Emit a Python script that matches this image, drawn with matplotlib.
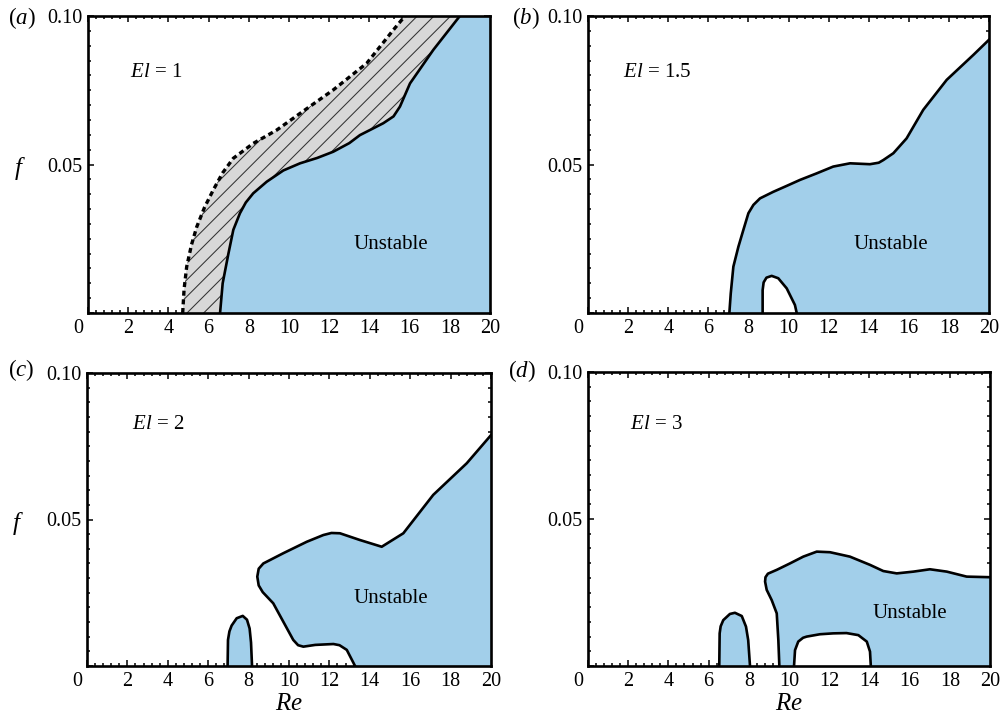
import numpy as np
import matplotlib
matplotlib.use('Agg')
import matplotlib.pyplot as plt
from matplotlib.ticker import MultipleLocator, FixedLocator, FuncFormatter
from matplotlib.transforms import ScaledTranslation

plt.rcParams.update({
    'font.family': 'Liberation Serif',
    'mathtext.fontset': 'custom',
    'mathtext.rm': 'Liberation Serif',
    'mathtext.it': 'Liberation Serif:italic',
    'hatch.linewidth': 0.75,
})

RE_MAX = 20
F_MAX = 0.1
BLUE = '#a2cfea'
re_ticks = [0, 2, 4, 6, 8, 10, 12, 14, 16, 18, 20]
f_ticks = [0.0, 0.05, 0.1]
f_ticklabels = ['', '0.05', '0.10']

# (a) El = 1 : neutral curve (solid) and dashed curve
a_blue_re = [6.57, 6.70, 6.98, 7.23, 7.56, 7.85, 8.22, 8.89, 9.72, 10.55, 11.4, 12.2, 13.0, 13.53, 14.2, 14.69, 15.2, 15.52, 16.02, 17.18, 18.5]
a_blue_f = [0.0, 0.010, 0.0198, 0.028, 0.0336, 0.0372, 0.0403, 0.0442, 0.048, 0.0504, 0.0522, 0.0543, 0.0572, 0.0599, 0.0622, 0.0639, 0.0662, 0.0695, 0.0773, 0.0886, 0.1]
a_dash_re = [4.71, 4.78, 4.91, 5.15, 5.41, 5.8, 6.23, 6.7, 7.23, 8.22, 9.39, 10.55, 12.2, 13.87, 15.19, 15.77]
a_dash_f = [0.0, 0.008, 0.0156, 0.023, 0.029, 0.0356, 0.0414, 0.0472, 0.0521, 0.0571, 0.0616, 0.0672, 0.0751, 0.0841, 0.0953, 0.1]

# (b) El = 1.5
b_main_re = [7.05, 7.12, 7.25, 7.50, 7.75, 8.0, 8.25, 8.58, 9.24, 9.91, 10.57, 11.4, 12.23, 13.07, 14.06, 14.5, 14.73, 15.23, 15.89, 16.72, 17.89, 19.22, 20.0]
b_main_f = [0.0, 0.0066, 0.0156, 0.0223, 0.028, 0.0336, 0.0364, 0.0386, 0.0408, 0.0428, 0.0448, 0.047, 0.0493, 0.0504, 0.0501, 0.0506, 0.0515, 0.0538, 0.0588, 0.0684, 0.0785, 0.0869, 0.092]
b_hole_re = [8.71, 8.71, 8.76, 8.9, 9.16, 9.49, 9.91, 10.32, 10.41]
b_hole_f = [0.0, 0.0077, 0.0103, 0.0119, 0.0125, 0.0117, 0.0083, 0.0027, 0.0]

# (c) El = 2
c_island_re = [6.96, 6.98, 7.05, 7.16, 7.41, 7.71, 7.92, 8.05, 8.12, 8.17]
c_island_f = [0.0, 0.0089, 0.0118, 0.0138, 0.0163, 0.0171, 0.0158, 0.0128, 0.008, 0.0]
c_main_re = [13.27, 12.86, 12.5, 12.2, 11.3, 10.71, 10.45, 10.21, 9.22, 8.7, 8.5, 8.43, 8.5, 8.73, 9.72, 10.88, 11.7, 12.1, 12.52, 13.51, 14.59, 15.66, 17.14, 18.8, 20.0]
c_main_f = [0.0, 0.0055, 0.0071, 0.0075, 0.0072, 0.0066, 0.0071, 0.0089, 0.0214, 0.0252, 0.0275, 0.0305, 0.0332, 0.035, 0.0385, 0.0424, 0.0447, 0.0454, 0.0453, 0.043, 0.0407, 0.0453, 0.0584, 0.0692, 0.0788]

# (d) El = 3
d_island_re = [6.53, 6.55, 6.6, 6.73, 7.06, 7.31, 7.65, 7.86, 7.97, 8.06]
d_island_f = [0.0, 0.0111, 0.0135, 0.0156, 0.0177, 0.0181, 0.017, 0.0134, 0.0088, 0.0]
d_main_re = [9.52, 9.47, 9.39, 9.14, 8.89, 8.81, 8.83, 8.95, 9.39, 10.05, 10.71, 11.38, 12.04, 13.03, 14.03, 14.69, 15.36, 16.19, 17.01, 17.85, 18.84, 20.0]
d_main_f = [0.0, 0.0088, 0.0179, 0.0224, 0.0259, 0.0287, 0.0302, 0.0314, 0.0327, 0.0349, 0.0372, 0.0389, 0.0387, 0.0372, 0.0344, 0.0323, 0.0315, 0.0321, 0.0329, 0.0321, 0.0304, 0.0302]
d_hole_re = [10.25, 10.3, 10.46, 10.7, 10.88, 11.54, 12.2, 12.86, 13.45, 13.87, 14.03, 14.07]
d_hole_f = [0.0, 0.0054, 0.0083, 0.0096, 0.01, 0.0108, 0.0111, 0.0112, 0.0105, 0.0083, 0.0049, 0.0]

fig = plt.figure(figsize=(10.07, 7.18), dpi=100)
W, H = 1007.0, 718.0


def make_axes(l, r, t, b):
    return fig.add_axes([l / W, 1 - b / H, (r - l) / W, (b - t) / H])


def setup(ax, el, el_xy, unst_xy, show_f, show_re):
    ax.set_xlim(0, RE_MAX)
    ax.set_ylim(0, F_MAX)
    ax.xaxis.set_major_locator(FixedLocator(re_ticks))
    ax.xaxis.set_minor_locator(MultipleLocator(0.4))
    ax.yaxis.set_major_locator(FixedLocator(f_ticks))
    ax.yaxis.set_minor_locator(MultipleLocator(0.005))
    ax.set_xticklabels([str(t) for t in re_ticks])
    ax.set_yticklabels(f_ticklabels)
    ax.tick_params(which='both', direction='in', top=True, right=True, width=1.1, labelsize=14.5)
    ax.tick_params(which='major', length=4.5)
    ax.tick_params(which='minor', length=2.2)
    ax.tick_params(axis='x', pad=4)
    ax.tick_params(axis='y', pad=4)
    for s in ax.spines.values():
        s.set_linewidth(1.9)
        s.set_zorder(10)
    # the "0" label sits a little left of its tick in the original
    t0 = ax.xaxis.get_major_ticks()[0]
    t0.label1.set_transform(t0.label1.get_transform() + ScaledTranslation(-0.10, 0, fig.dpi_scale_trans))
    ax.text(el_xy[0], el_xy[1], r'$El$ = ' + el, fontsize=15, ha='left', va='center')
    ax.text(unst_xy[0], unst_xy[1], 'Unstable', fontsize=15, ha='center', va='center')
    if show_f:
        ax.set_ylabel('$f$', rotation=0, fontsize=18, va='center', ha='center')
        ax.yaxis.set_label_coords(-0.17, 0.485)
    if show_re:
        ax.set_xlabel('$Re$', fontsize=18, va='center')
        ax.xaxis.set_label_coords(0.5, -0.128)


def region(ax, re, f, closed_right=False):
    xs = list(re)
    ys = list(f)
    if closed_right:
        xs = xs + [RE_MAX]
        ys = ys + [0.0]
    ax.fill(xs, ys, color=BLUE, lw=0, zorder=2)
    ax.plot(re, f, color='k', lw=1.9, zorder=5, solid_joinstyle='round')


def hole(ax, re, f):
    ax.fill(re, f, color='white', lw=0, zorder=3)
    ax.plot(re, f, color='k', lw=1.9, zorder=5, solid_joinstyle='round')


# (a)
ax = make_axes(88, 490, 16, 313)
setup(ax, '1', (2.1, 0.081), (15.07, 0.0229), True, False)
ax.fill(a_blue_re + [RE_MAX, RE_MAX], a_blue_f + [F_MAX, 0.0], color=BLUE, lw=0, zorder=2)
ax.fill(a_dash_re + a_blue_re[::-1], a_dash_f + a_blue_f[::-1], facecolor='#d8d8d8',
        edgecolor='#333333', hatch='//', lw=0, zorder=2)
ax.plot(a_blue_re, a_blue_f, color='k', lw=1.9, zorder=5, solid_joinstyle='round')
ax.plot(a_dash_re, a_dash_f, color='k', lw=2.4, ls=(0, (1.5, 1.1)), zorder=5)

# (b)
ax = make_axes(588, 989, 16, 313)
setup(ax, '1.5', (1.75, 0.081), (15.09, 0.0229), False, False)
region(ax, b_main_re, b_main_f, closed_right=True)
hole(ax, b_hole_re, b_hole_f)

# (c)
ax = make_axes(87, 491, 373, 666)
setup(ax, '2', (2.23, 0.0824), (15.02, 0.023), True, True)
region(ax, c_main_re, c_main_f, closed_right=True)
region(ax, c_island_re, c_island_f)

# (d)
ax = make_axes(588, 990, 372, 666)
setup(ax, '3', (2.09, 0.0821), (16.0, 0.0179), False, True)
region(ax, d_main_re, d_main_f, closed_right=True)
hole(ax, d_hole_re, d_hole_f)
region(ax, d_island_re, d_island_f)

for lab, px, py in [('a', 8, 18), ('b', 512, 18), ('c', 8, 370), ('d', 508, 371)]:
    fig.text(px / W, 1 - py / H, r'$(%s)$' % lab, fontsize=16.5, ha='left', va='center')

fig.savefig('out.png', dpi=100)
